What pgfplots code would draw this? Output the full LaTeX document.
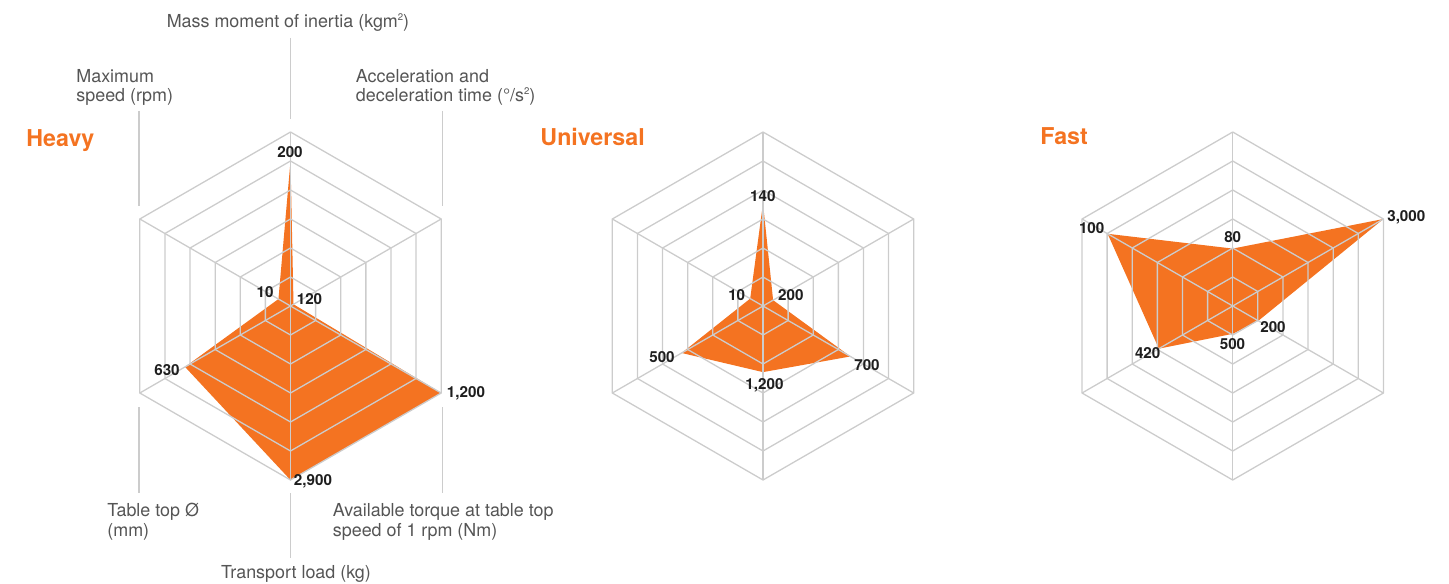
\documentclass[border=0pt]{standalone}
\usepackage{pgfplots}
\pgfplotsset{compat=1.18}
\usepackage{fontspec}
\setmainfont{TeX Gyre Heros}
\definecolor{org}{HTML}{F47321}
\definecolor{gridc}{HTML}{CCCCCC}
\definecolor{lab}{HTML}{555555}
\definecolor{val}{HTML}{1E1E1E}
\pgfplotsset{
  radar/.style={hide axis, scale only axis, width=174pt, height=174pt,
    xmin=-1, xmax=1, ymin=-1, ymax=1, anchor=center, clip=false},
  hexgrid/.style={draw=gridc, line width=0.65pt, mark=none, data cs=polar, forget plot, line join=miter},
  datafill/.style={fill=org, draw=none, mark=none, data cs=polar, forget plot},
}
\newcommand\hexgrid{%
  \addplot[hexgrid] coordinates {(90,1)(30,1)(-30,1)(-90,1)(210,1)(150,1)(90,1)};
  \addplot[hexgrid] coordinates {(90,0.83333)(30,0.83333)(-30,0.83333)(-90,0.83333)(210,0.83333)(150,0.83333)(90,0.83333)};
  \addplot[hexgrid] coordinates {(90,0.66667)(30,0.66667)(-30,0.66667)(-90,0.66667)(210,0.66667)(150,0.66667)(90,0.66667)};
  \addplot[hexgrid] coordinates {(90,0.5)(30,0.5)(-30,0.5)(-90,0.5)(210,0.5)(150,0.5)(90,0.5)};
  \addplot[hexgrid] coordinates {(90,0.33333)(30,0.33333)(-30,0.33333)(-90,0.33333)(210,0.33333)(150,0.33333)(90,0.33333)};
  \addplot[hexgrid] coordinates {(90,0.16667)(30,0.16667)(-30,0.16667)(-90,0.16667)(210,0.16667)(150,0.16667)(90,0.16667)};
  \addplot[hexgrid] coordinates {(90,1)(270,1)};
  \addplot[hexgrid] coordinates {(30,1)(210,1)};
  \addplot[hexgrid] coordinates {(150,1)(330,1)};
}
\newcommand\sq{\raisebox{0.85ex}{\fontsize{4.8}{5}\selectfont 2}}
\newcommand\vl[3]{\node[anchor=base, inner sep=0pt, text=val, font=\bfseries\fontsize{7.6}{9}\selectfont] at (#1,#2) {#3};}
\newcommand\al[3]{\node[anchor=base west, inner sep=0pt, text=lab, font=\fontsize{8.95}{10}\selectfont] at (#1,#2) {#3};}
\newcommand\ttl[3]{\node[anchor=base west, inner sep=0pt, text=org, font=\bfseries\fontsize{11.6}{13}\selectfont] at (#1,#2) {#3};}
\begin{document}
\begin{tikzpicture}[x=0.5pt, y=-0.5pt]
% ---------------- Heavy ----------------
\begin{axis}[radar, at={(145.25pt,-153pt)}]
  % order: mass moment (top), accel (UR), torque (LR), transport (B), table (LL), speed (UL)
  \addplot[datafill] coordinates {(90,0.833)(30,0.02)(-30,1)(-90,1)(210,0.70)(150,0.08)};
  \hexgrid
\end{axis}
% ---------------- Universal ----------------
\begin{axis}[radar, at={(381.5pt,-153pt)}]
  \addplot[datafill] coordinates {(90,0.59)(30,0.067)(-30,0.58)(-90,0.38)(210,0.54)(150,0.085)};
  \hexgrid
\end{axis}
% ---------------- Fast ----------------
\begin{axis}[radar, at={(616.35pt,-153pt)}]
  \addplot[datafill] coordinates {(90,0.33)(30,1)(-30,0.17)(-90,0.16)(210,0.49)(150,0.83)};
  \hexgrid
\end{axis}
% leader lines (Heavy)
\begin{scope}[draw=gridc, line width=0.65pt]
  \draw (290.5,38) -- (290.5,119);
  \draw (139,111) -- (139,206);
  \draw (442.5,111) -- (442.5,206);
  \draw (139,407) -- (139,493);
  \draw (442.5,407) -- (442.5,493);
  \draw (290.5,493) -- (290.5,558);
\end{scope}
% axis labels
\node[anchor=base, inner sep=0pt, text=lab, font=\fontsize{8.95}{10}\selectfont] at (288,28) {Mass moment of inertia (kgm\sq)};
\al{76}{83}{Maximum}
\al{76}{102}{speed (rpm)}
\al{355.5}{83}{Acceleration and}
\al{355.5}{102}{deceleration time (°/s\sq)}
\al{107}{516}{Table top Ø}
\al{107}{536}{(mm)}
\al{332.5}{516}{Available torque at table top}
\al{332.5}{536}{speed of 1 rpm (Nm)}
\node[anchor=base, inner sep=0pt, text=lab, font=\fontsize{8.95}{10}\selectfont] at (296,578) {Transport load (kg)};
% titles
\ttl{26}{146}{Heavy}
\ttl{540}{145}{Universal}
\ttl{1040}{144.5}{Fast}
% value labels Heavy
\vl{290}{157}{200}
\vl{309.5}{304}{120}
\vl{265}{297.7}{10}
\vl{167}{375}{630}
\vl{466}{397}{1,200}
\vl{313}{485}{2,900}
% value labels Universal
\vl{762.8}{201.7}{140}
\vl{790.8}{300}{200}
\vl{736.7}{300}{10}
\vl{662}{362.7}{500}
\vl{867}{370.7}{700}
\vl{764.5}{389.5}{1,200}
% value labels Fast
\vl{1232.7}{242.7}{80}
\vl{1406.3}{221.5}{3,000}
\vl{1273}{332.7}{200}
\vl{1232.5}{349.3}{500}
\vl{1147.7}{358.7}{420}
\vl{1091.7}{233.7}{100}
\pgfresetboundingbox
\useasboundingbox (0,0) rectangle (1449,583);
\end{tikzpicture}
\end{document}
